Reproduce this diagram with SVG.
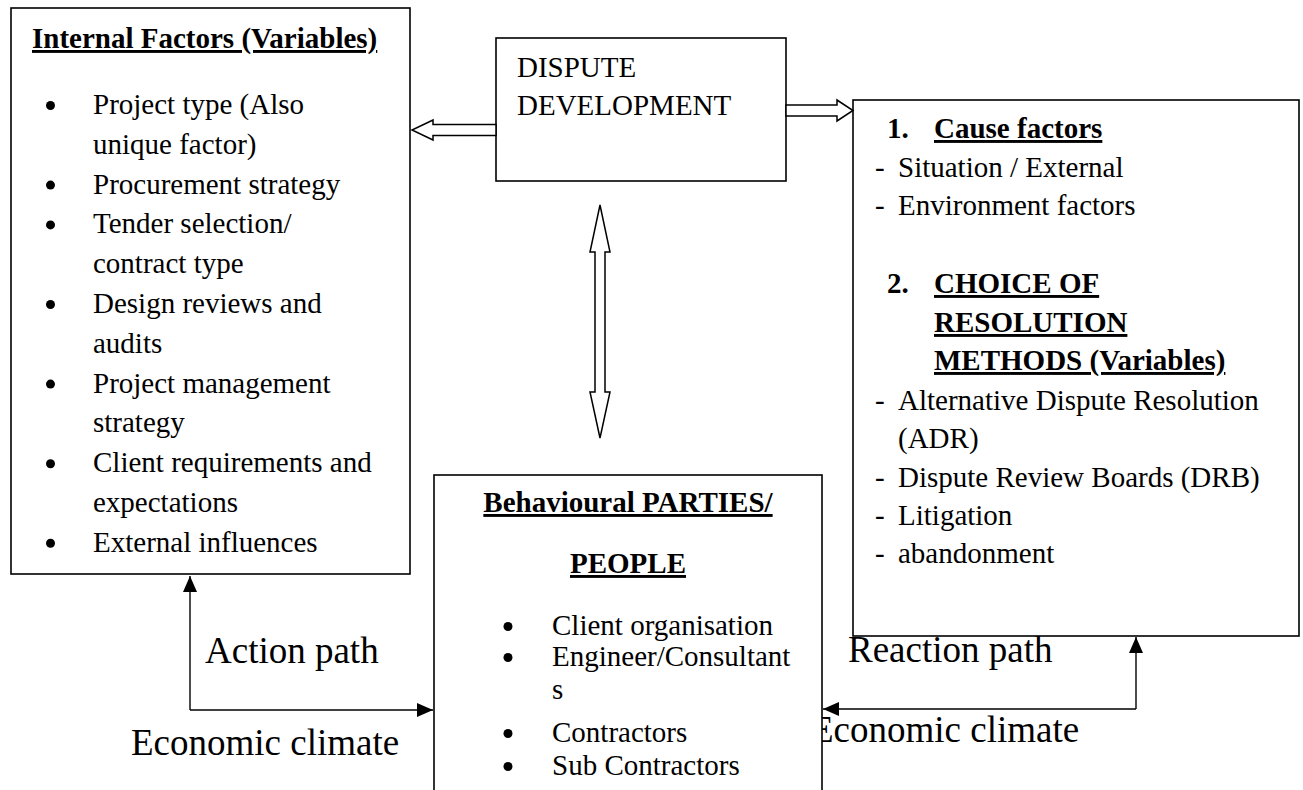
<svg xmlns="http://www.w3.org/2000/svg" width="1303" height="790" viewBox="0 0 1303 790">
  <style>
    text { font-family: "Liberation Serif", "Times New Roman", serif; font-size: 29px; fill: #000; }
    .b { font-weight: bold; }
    .u { text-decoration: underline; }
    .big { font-size: 37px; }
    .box { fill: #fff; stroke: #000; stroke-width: 1.6; }
    .dot { fill: #000; }
    .hollow { fill: #fff; stroke: #000; stroke-width: 1.5; stroke-linejoin: miter; }
    .line { fill: none; stroke: #000; stroke-width: 1.4; }
  </style>
  <defs>
    <marker id="tri" viewBox="0 0 16 14" refX="16" refY="7" markerWidth="16" markerHeight="14" markerUnits="userSpaceOnUse" orient="auto">
      <path d="M0,0 L16,7 L0,14 Z" fill="#000"/>
    </marker>
  </defs>

  <rect width="1303" height="790" fill="#fff"/>

  <!-- free labels on the feedback paths -->
  <g id="labels">
    <text class="big" x="205" y="663">Action path</text>
    <text class="big" x="131" y="755">Economic climate</text>
    <text class="big" x="848" y="662">Reaction path</text>
    <text class="big" x="811" y="742">Economic climate</text>
  </g>

  <!-- internal factors -->
  <g id="internal-factors">
    <rect class="box" x="11" y="8" width="399" height="566"/>
    <text class="b u" x="32" y="48">Internal Factors (Variables)</text>
    <g class="dot">
      <circle cx="50.5" cy="105.5" r="4.5"/>
      <circle cx="50.5" cy="185.1" r="4.5"/>
      <circle cx="50.5" cy="224.9" r="4.5"/>
      <circle cx="50.5" cy="304.5" r="4.5"/>
      <circle cx="50.5" cy="384.1" r="4.5"/>
      <circle cx="50.5" cy="463.7" r="4.5"/>
      <circle cx="50.5" cy="543.3" r="4.5"/>
    </g>
    <text x="93" y="114">Project type (Also</text>
    <text x="93" y="153.8">unique factor)</text>
    <text x="93" y="193.6">Procurement strategy</text>
    <text x="93" y="233.4">Tender selection/</text>
    <text x="93" y="273.2">contract type</text>
    <text x="93" y="313">Design reviews and</text>
    <text x="93" y="352.8">audits</text>
    <text x="93" y="392.6">Project management</text>
    <text x="93" y="432.4">strategy</text>
    <text x="93" y="472.2">Client requirements and</text>
    <text x="93" y="512">expectations</text>
    <text x="93" y="551.8">External influences</text>
  </g>

  <!-- dispute development -->
  <g id="dispute-development">
    <rect class="box" x="496" y="38" width="290" height="143"/>
    <text x="517" y="77">DISPUTE</text>
    <text x="517" y="115">DEVELOPMENT</text>
  </g>

  <!-- cause factors / resolution methods -->
  <g id="resolution">
    <rect class="box" x="853" y="100" width="446" height="536"/>
    <text class="b" x="887" y="138">1.</text>
    <text class="b u" x="934" y="138">Cause factors</text>
    <text x="875" y="177">-</text>
    <text x="898" y="177">Situation / External</text>
    <text x="875" y="215">-</text>
    <text x="898" y="215">Environment factors</text>
    <text class="b" x="887" y="293">2.</text>
    <text class="b u" x="934" y="293">CHOICE OF</text>
    <text class="b u" x="934" y="332">RESOLUTION</text>
    <text class="b u" x="934" y="370">METHODS (Variables)</text>
    <text x="875" y="410">-</text>
    <text x="898" y="410">Alternative Dispute Resolution</text>
    <text x="898" y="448">(ADR)</text>
    <text x="875" y="487">-</text>
    <text x="898" y="487">Dispute Review Boards (DRB)</text>
    <text x="875" y="525">-</text>
    <text x="898" y="525">Litigation</text>
    <text x="875" y="563">-</text>
    <text x="898" y="563">abandonment</text>
  </g>

  <!-- behavioural parties -->
  <g id="behavioural-parties">
    <rect class="box" x="434" y="475" width="388" height="330"/>
    <text class="b u" x="628" y="512" text-anchor="middle">Behavioural PARTIES/</text>
    <text class="b u" x="628" y="573" text-anchor="middle">PEOPLE</text>
    <g class="dot">
      <circle cx="508" cy="626.5" r="4.5"/>
      <circle cx="508" cy="657.5" r="4.5"/>
      <circle cx="508" cy="733.5" r="4.5"/>
      <circle cx="508" cy="766.5" r="4.5"/>
    </g>
    <text x="552" y="635">Client organisation</text>
    <text x="552" y="666">Engineer/Consultant</text>
    <text x="552" y="699">s</text>
    <text x="552" y="742">Contractors</text>
    <text x="552" y="775">Sub Contractors</text>
  </g>

  <!-- connectors -->
  <g id="connectors">
    <!-- block arrows from dispute development -->
    <polygon class="hollow" points="496,124.5 433,124.5 433,120 412,130 433,140 433,135.5 496,135.5"/>
    <polygon class="hollow" points="786,105 837,105 837,100 853,110.5 837,121 837,116 786,116"/>
    <polygon class="hollow" points="600,205 610,252 605,252 605,392 610,392 600,438 590,392 595,392 595,252 590,252"/>
    <!-- action path -->
    <path class="line" d="M190,710 V576" marker-end="url(#tri)"/>
    <path class="line" d="M190,710 H433" marker-end="url(#tri)"/>
    <!-- reaction path -->
    <path class="line" d="M1136,709 V637" marker-end="url(#tri)"/>
    <path class="line" d="M1136,709 H823" marker-end="url(#tri)"/>
  </g>
</svg>
